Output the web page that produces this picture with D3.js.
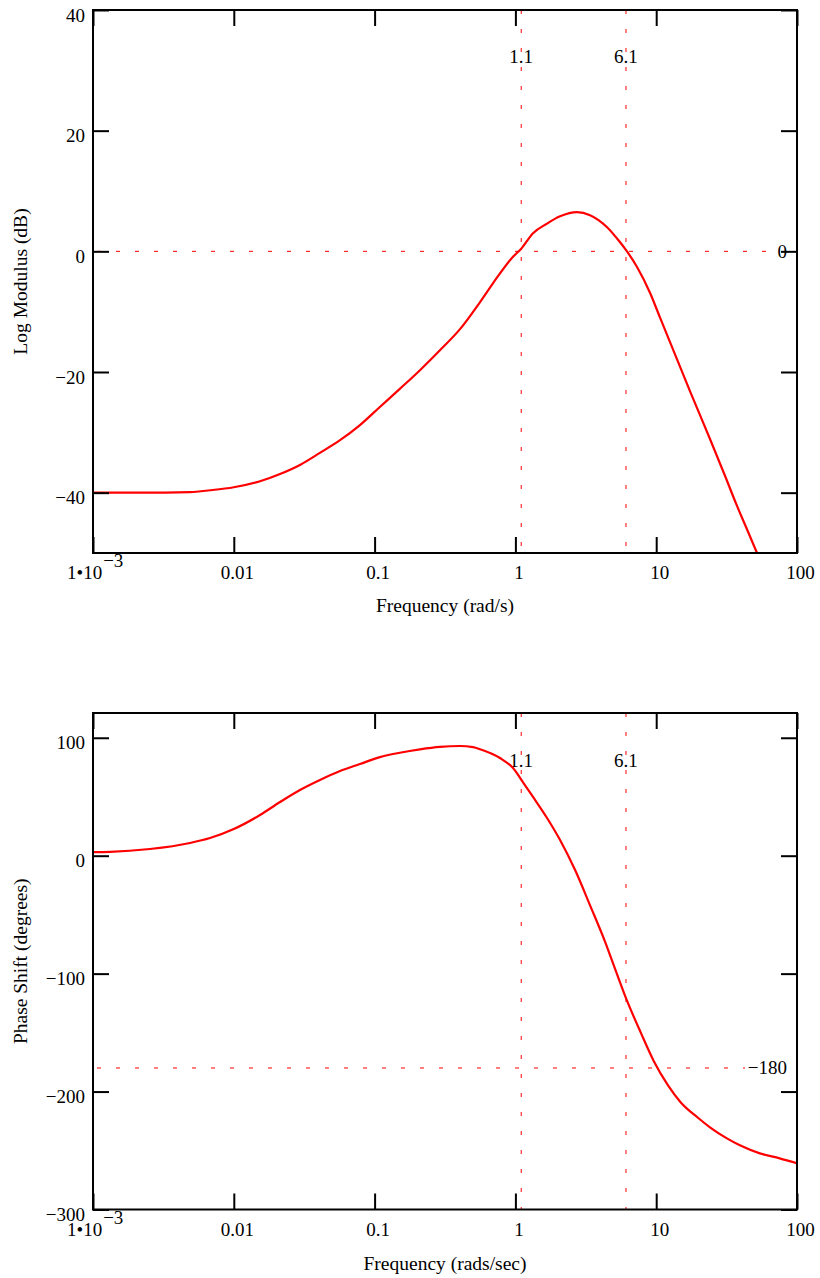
<!DOCTYPE html>
<html>
<head>
<meta charset="utf-8">
<title>Bode plot</title>
<script src="https://d3js.org/d3.v7.min.js"></script>
<style>
  body { margin: 0; background: #fff; }
  svg text { font-family: "Liberation Serif", "Times New Roman", serif; fill: #000; }
</style>
</head>
<body>
<svg width="820" height="1278"></svg>
<script>
// magnitude curve
const magFreq = [0.001, 0.00216, 0.00489, 0.00678, 0.01, 0.01535, 0.0213, 0.0295, 0.0409, 0.0568,
                 0.0787, 0.109, 0.151, 0.21, 0.291, 0.404, 0.561, 0.693, 0.962, 1.097,
                 1.334, 1.678, 2.076, 2.74, 3.39, 4.48, 5.54, 6.11, 7.31, 9.05,
                 10.65, 17.4, 24.1, 30.8, 37.5, 44.2, 52.0];
const magDb = [-40.0, -40.0, -39.9, -39.6, -39.1, -38.1, -36.9, -35.4, -33.4, -31.3,
               -28.8, -25.8, -22.8, -19.7, -16.4, -12.9, -8.4, -5.3, -0.9, 0.4,
               3.0, 4.6, 5.8, 6.5, 6.0, 4.0, 1.5, 0.2, -2.6, -6.9,
               -11.0, -23.2, -31.1, -37.2, -42.2, -46.1, -50.0];

// phase curve
const phaseFreq = [0.001, 0.00132, 0.00254, 0.00489, 0.00678, 0.01, 0.01535, 0.0213, 0.0295, 0.0409,
                   0.0568, 0.0787, 0.109, 0.151, 0.21, 0.291, 0.404, 0.5, 0.561, 0.777,
                   0.962, 1.136, 1.334, 1.678, 2.076, 2.66, 3.39, 4.35, 4.96, 6.11,
                   7.77, 9.6, 12.1, 14.9, 19.6, 24.1, 31.8, 39.3, 54.5, 75.3, 100];
const phaseDeg = [3.1, 3.3, 5.7, 10.8, 15, 22.6, 34.5, 45.5, 55.7, 64.2,
                  71.8, 77.7, 83.6, 87.3, 90.2, 92.3, 93.0, 92.0, 90.3, 82.8,
                  74.3, 62.0, 49.8, 32.0, 13.3, -12.4, -42.1, -73.5, -92, -121,
                  -150, -174, -194.5, -209, -221.8, -230.3, -239.7, -245.6, -252.4, -256.6, -260.8];

const xTicks = [0.001, 0.01, 0.1, 1, 10, 100];
const magTicks = [40, 20, 0, -20, -40];
const phaseTicks = [100, 0, -100, -200, -300];
const markers = [1.1, 6.1];

const svg = d3.select("svg");
const left = 93, right = 797;
const fmt = d => d < 0 ? "\u2212" + Math.abs(d) : String(d);

function panel(opts) {
  const x = d3.scaleLog().domain([0.001, 100]).range([left, right]);
  const y = d3.scaleLinear().domain(opts.yDomain).range([opts.bottom, opts.top]);
  const g = svg.append("g");
  const h = opts.bottom - opts.top;

  // dashed guide lines
  markers.forEach(m => {
    g.append("line")
      .attr("x1", x(m)).attr("x2", x(m))
      .attr("y1", opts.top).attr("y2", opts.bottom)
      .attr("stroke", "#ff0000").attr("stroke-width", 1)
      .attr("stroke-dasharray", "4,15");
    g.append("text")
      .attr("x", x(m)).attr("y", opts.top + opts.markerDy)
      .attr("text-anchor", "middle").style("font-size", "19px")
      .text(m);
  });
  g.append("line")
    .attr("x1", left + 4).attr("x2", opts.hEnd)
    .attr("y1", y(opts.hValue)).attr("y2", y(opts.hValue))
    .attr("stroke", "#ff0000").attr("stroke-width", 1)
    .attr("stroke-dasharray", "4,15");
  g.append("text")
    .attr("x", 787).attr("y", y(opts.hValue) + 6.5)
    .attr("text-anchor", "end").style("font-size", "19px")
    .text(fmt(opts.hValue));

  // curve
  const pts = opts.freq.map((f, i) => [f, opts.vals[i]]);
  g.append("path")
    .datum(pts)
    .attr("fill", "none").attr("stroke", "#ff0000").attr("stroke-width", 2.2)
    .attr("d", d3.line().x(d => x(d[0])).y(d => y(d[1])).curve(d3.curveMonotoneX));

  // axes with inward ticks on all four sides
  const ax = g.append("g").attr("transform", `translate(0,${opts.bottom})`)
    .call(d3.axisBottom(x).tickValues(xTicks).tickSize(-16).tickFormat(d => d === 0.001 ? "" : String(d)));
  ax.selectAll("text").attr("y", 26).attr("dy", null).attr("dx", 3).style("font-size", "19px");
  g.append("g").attr("transform", `translate(0,${opts.top})`)
    .call(d3.axisTop(x).tickValues(xTicks).tickSize(-16).tickFormat(""));
  const ay = g.append("g").attr("transform", `translate(${left},0)`)
    .call(d3.axisLeft(y).tickValues(opts.yTicks).tickSize(-16).tickFormat(fmt));
  ay.selectAll("text").attr("x", -8).attr("dy", null).attr("y", 11).style("font-size", "19px");
  g.append("g").attr("transform", `translate(${right},0)`)
    .call(d3.axisRight(y).tickValues(opts.yTicks).tickSize(-16).tickFormat(""));
  g.selectAll(".domain").remove();
  g.selectAll(".tick line").attr("stroke", "#000").attr("stroke-width", 2);

  // first x label as 1•10^-3
  const t = g.append("text").attr("x", 67).attr("y", opts.bottom + 26).style("font-size", "19px");
  t.append("tspan").text("1\u202210");
  t.append("tspan").attr("dy", -12).attr("dx", 1).text("\u22123");

  // frame
  g.append("rect")
    .attr("x", left).attr("y", opts.top)
    .attr("width", right - left).attr("height", h)
    .attr("fill", "none").attr("stroke", "#000").attr("stroke-width", 2);

  // titles
  g.append("text")
    .attr("x", (left + right) / 2).attr("y", opts.bottom + opts.xTitleDy)
    .attr("text-anchor", "middle").style("font-size", "19.5px")
    .text(opts.xTitle);
  g.append("text")
    .attr("transform", `translate(27,${(opts.top + opts.bottom) / 2}) rotate(-90)`)
    .attr("text-anchor", "middle").style("font-size", "19.5px")
    .text(opts.yTitle);
}

panel({
  top: 10, bottom: 553, yDomain: [-50, 40], yTicks: magTicks,
  freq: magFreq, vals: magDb, hValue: 0, hEnd: 775, markerDy: 53,
  xTitle: "Frequency (rad/s)", xTitleDy: 59, yTitle: "Log Modulus (dB)"
});

panel({
  top: 713, bottom: 1209.5, yDomain: [-300, 121], yTicks: phaseTicks,
  freq: phaseFreq, vals: phaseDeg, hValue: -180, hEnd: 745, markerDy: 54,
  xTitle: "Frequency (rads/sec)", xTitleDy: 60, yTitle: "Phase Shift (degrees)"
});
</script>
</body>
</html>
